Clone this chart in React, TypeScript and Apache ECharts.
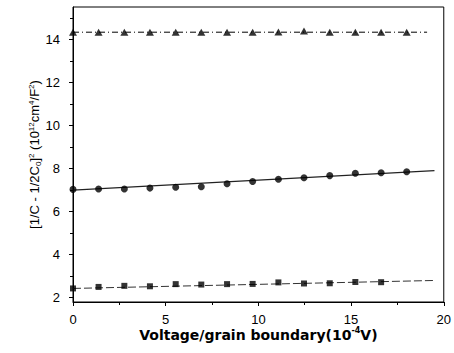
import React, { useEffect, useRef } from "react";
import * as echarts from "echarts";

// x positions of measured points (10^-4 V)
const xValues = [0, 1.38, 2.77, 4.15, 5.54, 6.92, 8.31, 9.69, 11.08, 12.46, 13.85, 15.23, 16.62, 18.0];
const triangleY = [14.33, 14.33, 14.33, 14.33, 14.33, 14.33, 14.33, 14.33, 14.34, 14.38, 14.33, 14.33, 14.33, 14.33];
const circleY = [7.03, 7.05, 7.05, 7.09, 7.13, 7.15, 7.29, 7.4, 7.5, 7.57, 7.67, 7.78, 7.8, 7.85];
const squareX = [0, 1.38, 2.77, 4.15, 5.54, 6.92, 8.31, 9.69, 11.08, 12.46, 13.85, 15.23, 16.62];
const squareY = [2.43, 2.5, 2.55, 2.53, 2.63, 2.61, 2.63, 2.64, 2.71, 2.66, 2.67, 2.73, 2.72];

// fitted lines (endpoints)
const triFitX = [0, 19.1];
const triFitY = [14.33, 14.33];
const circFitX = [0, 19.5];
const circFitY = [7.0, 7.9];
const sqFitX = [0, 19.5];
const sqFitY = [2.43, 2.8];

const yTicks = [2, 4, 6, 8, 10, 12, 14];
const xTicks = [0, 5, 10, 15, 20];

const FONT = "Liberation Sans, Arial, sans-serif";
const TITLE_FONT = "DejaVu Sans, Liberation Sans, sans-serif";

const pairs = (xs: number[], ys: number[]) => xs.map((x, i) => [x, ys[i]]);

export default function App() {
  const ref = useRef<HTMLDivElement>(null);
  useEffect(() => {
    const chart = echarts.init(ref.current!, null, { renderer: "svg" });
    chart.setOption({
      animation: false,
      backgroundColor: "#fff",
      grid: { left: 73, right: 9, top: 7, bottom: 51, show: true, borderColor: "#000", borderWidth: 1 },
      xAxis: {
        type: "value",
        min: 0,
        max: 20,
        interval: 5,
        axisLine: { show: true, lineStyle: { color: "#000", width: 1 } },
        axisTick: { show: true, inside: false, length: 4, lineStyle: { color: "#000" }, customValues: xTicks },
        minorTick: { show: true, splitNumber: 2, length: 3, lineStyle: { color: "#000" } },
        splitLine: { show: false },
        axisLabel: { color: "#000", fontSize: 13, fontFamily: FONT, margin: 11, customValues: xTicks },
        name: "{b|Voltage/grain boundary(10}{sup|-4}{b|V)}",
        nameLocation: "middle",
        nameGap: 24,
        nameMoveOverlap: false,
        nameTextStyle: {
          rich: {
            b: { fontSize: 14, fontWeight: "bold", fontFamily: TITLE_FONT, color: "#000", lineHeight: 16, verticalAlign: "bottom" },
            sup: { fontSize: 8, fontWeight: "bold", fontFamily: TITLE_FONT, color: "#000", lineHeight: 10, verticalAlign: "top" },
          },
        },
      },
      yAxis: {
        type: "value",
        min: 1.8,
        max: 15.5,
        splitNumber: 7,
        axisLine: { show: true, lineStyle: { color: "#000", width: 1 } },
        axisTick: { show: true, inside: false, length: 4, lineStyle: { color: "#000" }, customValues: yTicks },
        minorTick: { show: true, splitNumber: 2, length: 3, lineStyle: { color: "#000" } },
        splitLine: { show: false },
        axisLabel: {
          color: "#000",
          fontSize: 13,
          fontFamily: FONT,
          margin: 13,
          customValues: yTicks,
        },
        name: "{b|[1/C - 1/2C}{sub|0}{b|]}{sup|2}{b| (10}{sup|12}{b|cm}{sup|4}{b|/F}{sup|2}{b|)}",
        nameLocation: "middle",
        nameGap: 31,
        nameMoveOverlap: false,
        nameTextStyle: {
          rich: {
            b: { fontSize: 13, fontFamily: FONT, color: "#000", lineHeight: 15, verticalAlign: "middle" },
            sup: { fontSize: 8, fontFamily: FONT, color: "#000", lineHeight: 10, verticalAlign: "top" },
            sub: { fontSize: 8, fontFamily: FONT, color: "#000", lineHeight: 8, verticalAlign: "bottom" },
          },
        },
      },
      series: [
        {
          type: "line",
          data: pairs(triFitX, triFitY),
          symbol: "none",
          lineStyle: { color: "#000", width: 1, type: [6, 3, 1, 3] },
          z: 1,
        },
        {
          type: "line",
          data: pairs(circFitX, circFitY),
          symbol: "none",
          lineStyle: { color: "#222", width: 1.2, type: "solid" },
          z: 1,
        },
        {
          type: "line",
          data: pairs(sqFitX, sqFitY),
          symbol: "none",
          lineStyle: { color: "#333", width: 1, type: [8, 3] },
          z: 1,
        },
        {
          type: "scatter",
          data: pairs(xValues, triangleY),
          symbol: "triangle",
          symbolSize: [8, 7],
          itemStyle: { color: "#000" },
          z: 3,
        },
        {
          type: "scatter",
          data: pairs(xValues, circleY),
          symbol: "circle",
          symbolSize: 7,
          itemStyle: { color: "#000" },
          z: 3,
        },
        {
          type: "scatter",
          data: pairs(squareX, squareY),
          symbol: "rect",
          symbolSize: 6,
          itemStyle: { color: "#000" },
          z: 3,
        },
      ],
    });
    return () => chart.dispose();
  }, []);
  return (
    <div
      ref={ref}
      style={{ position: "fixed", left: 0, top: 0, width: 454, height: 353, background: "#fff" }}
    />
  );
}
